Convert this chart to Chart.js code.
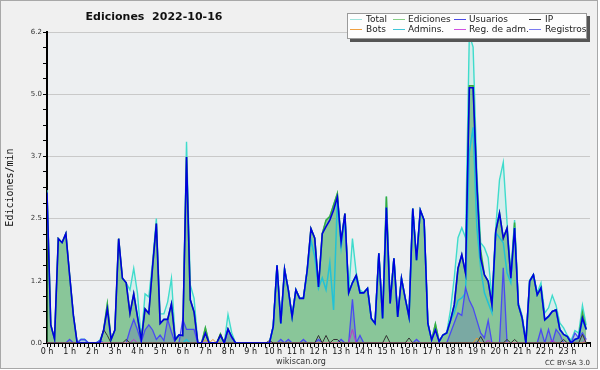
<!DOCTYPE html>
<html>
<head>
<meta charset="utf-8">
<script src="https://cdn.jsdelivr.net/npm/chart.js@4.4.0/dist/chart.umd.min.js"></script>
<style>
  html, body { margin: 0; padding: 0; background: #fff; }
  canvas { display: block; }
</style>
</head>
<body>
<canvas id="chartEdits" width="600" height="370"></canvas>
<script>
// edits per minute, one value per 10 minutes (6 per hour row)
const total = [
  3.05, 0.36, 0.08, 2.08, 2.0, 2.18,
  1.35, 0.55, 0, 0.07, 0.07, 0,
  0, 0, 0.05, 0.25, 0.78, 0.07,
  0.26, 2.08, 1.29, 1.2, 1.06, 1.49,
  0.99, 0.06, 0.98, 0.92, 1.62, 2.48,
  0.58, 0.58, 0.82, 1.29, 0.1, 0.16,
  0.15, 4.01, 1.16, 0.89, 0, 0,
  0.3, 0, 0, 0, 0.18, 0,
  0.57, 0.2, 0, 0, 0, 0,
  0, 0, 0, 0, 0, 0,
  0.33, 1.55, 0.39, 1.47, 1.06, 0.52,
  1.06, 0.89, 0.89, 1.45, 2.28, 2.09,
  1.12, 2.18, 2.45, 2.52, 2.75, 2.98,
  2.02, 2.58, 1.0, 2.08, 1.4, 1.06,
  1.0, 1.09, 0.49, 0.39, 1.79, 0.49,
  2.92, 0.79, 1.69, 0.52, 1.29, 0.89,
  0.52, 2.68, 1.65, 2.65, 2.45, 0.39,
  0.06, 0.38, 0.03, 0.16, 0.2, 0.66,
  1.3, 2.1, 2.3, 2.1, 6.15, 5.9,
  3.4, 2.0, 1.9, 1.7, 0.9, 2.3,
  3.25, 3.6, 2.4, 1.4, 2.45, 0.8,
  0.55, 0.05, 1.25, 1.37, 1.0, 1.2,
  0.6, 0.7, 0.95, 0.75, 0.4, 0.3,
  0.15, 0.05, 0.25, 0.2, 0.75, 0.35
];

const ediciones = [
  3.0, 0.36, 0.08, 2.08, 2.0, 2.18,
  1.35, 0.55, 0, 0, 0, 0,
  0, 0, 0, 0.25, 0.78, 0.07,
  0.26, 2.08, 1.29, 1.2, 0.59, 0.98,
  0.52, 0.06, 0.68, 0.59, 1.52, 2.38,
  0.39, 0.47, 0.47, 0.78, 0.06, 0.16,
  0.15, 3.71, 0.86, 0.62, 0, 0,
  0.3, 0, 0, 0, 0.18, 0,
  0.28, 0.12, 0, 0, 0, 0,
  0, 0, 0, 0, 0, 0,
  0.33, 1.55, 0.39, 1.47, 1.06, 0.52,
  1.06, 0.89, 0.89, 1.45, 2.28, 2.09,
  1.12, 2.18, 2.45, 2.52, 2.75, 2.98,
  2.02, 2.58, 1.0, 1.2, 1.35, 1.0,
  1.0, 1.09, 0.49, 0.39, 1.79, 0.49,
  2.92, 0.79, 1.69, 0.52, 1.29, 0.89,
  0.52, 2.68, 1.65, 2.65, 2.45, 0.39,
  0.06, 0.38, 0.03, 0.16, 0.2, 0.45,
  0.76, 1.49, 1.76, 1.39, 5.13, 5.13,
  3.15, 1.85, 1.36, 1.23, 0.76, 2.22,
  2.59, 2.09, 2.29, 1.29, 2.4, 0.76,
  0.5, 0, 1.23, 1.36, 0.96, 1.1,
  0.46, 0.53, 0.63, 0.66, 0.27, 0.17,
  0.13, 0, 0.07, 0.1, 0.6, 0.27
];

const usuarios = [
  3.0, 0.36, 0.08, 2.08, 2.0, 2.18,
  1.35, 0.55, 0, 0, 0, 0,
  0, 0, 0, 0.25, 0.68, 0.07,
  0.26, 2.08, 1.29, 1.2, 0.59, 0.98,
  0.52, 0.06, 0.68, 0.59, 1.52, 2.38,
  0.39, 0.47, 0.47, 0.78, 0.06, 0.16,
  0.15, 3.71, 0.86, 0.62, 0, 0,
  0.2, 0, 0, 0, 0.15, 0,
  0.28, 0.12, 0, 0, 0, 0,
  0, 0, 0, 0, 0, 0,
  0.33, 1.55, 0.39, 1.47, 1.06, 0.52,
  1.06, 0.89, 0.89, 1.45, 2.28, 2.09,
  1.12, 2.18, 2.32, 2.45, 2.65, 2.91,
  2.02, 2.58, 1.0, 1.2, 1.35, 1.0,
  1.0, 1.09, 0.49, 0.39, 1.79, 0.49,
  2.7, 0.79, 1.69, 0.52, 1.29, 0.89,
  0.52, 2.68, 1.65, 2.65, 2.45, 0.39,
  0.06, 0.26, 0.03, 0.16, 0.2, 0.45,
  0.76, 1.49, 1.76, 1.39, 5.09, 5.09,
  3.15, 1.69, 1.36, 1.23, 0.76, 2.22,
  2.59, 2.09, 2.29, 1.29, 2.29, 0.76,
  0.5, 0, 1.23, 1.36, 0.96, 1.1,
  0.46, 0.53, 0.63, 0.66, 0.27, 0.17,
  0.13, 0, 0.07, 0.1, 0.5, 0.27
];

const admins = [
  0, 0, 0, 0, 0, 0,
  0, 0, 0, 0.07, 0.07, 0,
  0, 0, 0.05, 0, 0, 0,
  0, 0, 0, 0, 0, 0,
  0, 0, 0, 0, 0, 0,
  0, 0, 0, 0, 0, 0,
  0, 0.07, 0, 0, 0, 0,
  0, 0, 0, 0, 0, 0,
  0, 0, 0, 0, 0, 0,
  0, 0, 0, 0, 0, 0,
  0.33, 1.55, 0.39, 1.47, 1.06, 0.52,
  1.06, 0.89, 0.89, 1.45, 2.05, 1.72,
  1.09, 1.3, 1.06, 1.6, 0.66, 2.85,
  1.9, 2.5, 1.0, 1.2, 1.3, 1.0,
  1.0, 1.09, 0.49, 0.39, 1.79, 0.49,
  2.7, 0.79, 1.69, 0.52, 1.29, 0.89,
  0.52, 2.68, 1.65, 2.65, 2.45, 0.39,
  0.06, 0.26, 0.03, 0.16, 0.2, 0.45,
  0.6, 0.85, 0.9, 1.0, 3.8, 4.3,
  2.3, 1.5, 1.0, 0.8, 0.6, 2.2,
  2.1, 2.0, 1.4, 1.2, 2.3, 0.76,
  0.5, 0, 1.23, 1.36, 0.96, 1.1,
  0.46, 0.53, 0.63, 0.66, 0.27, 0.17,
  0.13, 0, 0.07, 0.1, 0.45, 0.27
];

const registros = [
  0, 0, 0, 0, 0, 0,
  0.07, 0, 0, 0.07, 0.07, 0,
  0, 0, 0.05, 0, 0, 0,
  0, 0, 0, 0, 0.26, 0.47,
  0.26, 0.02, 0.26, 0.36, 0.26, 0.07,
  0.16, 0.05, 0.47, 0.22, 0, 0,
  0.47, 0.27, 0.27, 0.27, 0, 0,
  0, 0, 0, 0, 0, 0,
  0.27, 0.1, 0, 0, 0, 0,
  0, 0, 0, 0, 0, 0,
  0, 0, 0.07, 0, 0.07, 0,
  0, 0, 0.07, 0, 0, 0,
  0.07, 0, 0, 0, 0, 0,
  0.07, 0, 0, 0.87, 0, 0.15,
  0, 0, 0, 0, 0, 0,
  0, 0, 0, 0, 0, 0,
  0, 0, 0.07, 0, 0, 0,
  0, 0, 0, 0, 0, 0.2,
  0.4, 0.6, 0.55, 1.1, 0.85, 0.7,
  0.45, 0.2, 0.1, 0.45, 0, 0,
  0, 1.5, 0, 0, 0, 0,
  0, 0, 0, 0, 0, 0.27,
  0, 0.27, 0, 0.27, 0.17, 0,
  0, 0, 0.2, 0.1, 0.2, 0.07
];

const ip = [
  0, 0, 0, 0, 0, 0,
  0, 0, 0, 0, 0, 0,
  0, 0, 0, 0.27, 0.15, 0,
  0, 0, 0, 0.07, 0, 0,
  0, 0, 0, 0, 0, 0,
  0, 0, 0, 0, 0, 0,
  0, 0, 0, 0, 0, 0,
  0.18, 0, 0, 0, 0.18, 0,
  0, 0, 0, 0, 0, 0,
  0, 0, 0, 0, 0, 0.05,
  0, 0, 0, 0, 0, 0,
  0, 0, 0, 0, 0, 0,
  0.15, 0, 0.15, 0, 0.07, 0.07,
  0, 0, 0, 0, 0, 0,
  0, 0, 0, 0, 0, 0,
  0.15, 0, 0, 0, 0, 0,
  0.1, 0, 0, 0, 0, 0,
  0, 0, 0, 0, 0, 0,
  0, 0, 0, 0, 0, 0,
  0, 0.13, 0, 0, 0, 0,
  0, 0, 0.07, 0, 0.07, 0,
  0, 0, 0, 0, 0, 0,
  0, 0, 0, 0, 0, 0.07,
  0, 0, 0, 0, 0.17, 0
];

const bots = [
  0, 0, 0, 0, 0, 0,  0, 0, 0, 0, 0, 0,  0, 0, 0, 0, 0, 0,  0, 0, 0, 0, 0, 0,
  0, 0, 0, 0, 0, 0,  0, 0, 0, 0, 0, 0,  0, 0, 0, 0, 0, 0,  0.06, 0, 0.07, 0, 0, 0,
  0, 0, 0, 0, 0, 0,  0, 0, 0, 0, 0, 0,  0, 0, 0, 0, 0, 0,  0, 0, 0, 0, 0, 0,
  0, 0, 0, 0, 0, 0,  0, 0, 0, 0, 0, 0,  0, 0, 0, 0, 0, 0,  0, 0, 0, 0, 0, 0,
  0, 0, 0, 0, 0, 0,  0, 0, 0, 0, 0, 0,  0, 0, 0, 0, 0, 0,  0.1, 0, 0, 0, 0, 0,
  0, 0, 0, 0, 0, 0,  0, 0, 0, 0, 0, 0,  0, 0, 0, 0, 0, 0,  0, 0, 0, 0, 0, 0
];

const regAdm = [
  0, 0, 0, 0, 0, 0,  0, 0, 0, 0, 0, 0,  0, 0, 0, 0, 0, 0,  0, 0, 0, 0, 0, 0.07,
  0, 0, 0, 0, 0, 0,  0, 0, 0, 0, 0, 0,  0, 0, 0, 0, 0, 0,  0, 0, 0, 0, 0, 0,
  0, 0, 0, 0, 0, 0,  0, 0, 0, 0, 0, 0,  0, 0, 0, 0, 0, 0,  0, 0, 0, 0, 0, 0,
  0, 0, 0, 0, 0, 0,  0, 0, 0, 0.27, 0, 0,  0, 0, 0, 0, 0, 0,  0, 0, 0, 0, 0, 0,
  0, 0, 0, 0, 0, 0,  0, 0, 0, 0, 0, 0,  0, 0, 0, 0, 0, 0,  0, 0, 0, 0.05, 0, 0,
  0, 0, 0, 0, 0, 0,  0, 0, 0, 0, 0, 0,  0, 0, 0.05, 0, 0, 0,  0, 0, 0, 0, 0, 0.07
];

const hourLabels = [
  '0 h', '1 h', '2 h', '3 h', '4 h', '5 h', '6 h', '7 h', '8 h', '9 h', '10 h', '11 h',
  '12 h', '13 h', '14 h', '15 h', '16 h', '17 h', '18 h', '19 h', '20 h', '21 h', '22 h', '23 h'
];
const yTickValues = [0, 1.24, 2.48, 3.72, 4.96, 6.2];
const yTickLabels = ['0.0', '1.2', '2.5', '3.7', '5.0', '6.2'];

// legend is drawn by hand: 4 columns x 2 rows
const legendItems = [
  { text: 'Total', color: '#9fe3dc' },
  { text: 'Ediciones', color: '#86cf86' },
  { text: 'Usuarios', color: '#4a4ae6' },
  { text: 'IP', color: '#333333' },
  { text: 'Bots', color: '#f0a040' },
  { text: 'Admins.', color: '#40c6d8' },
  { text: 'Reg. de adm.', color: '#d050e0' },
  { text: 'Registros', color: '#7a7af0' }
];

function toPoints(values) {
  return values.map((v, i) => ({ x: i * 10, y: v }));
}

function line(label, values, color, width, order, extra) {
  return Object.assign({
    label,
    data: toPoints(values),
    borderColor: color,
    borderWidth: width,
    pointRadius: 0,
    tension: 0,
    fill: false,
    order
  }, extra || {});
}

const frame = {
  id: 'frame',
  beforeDraw(chart) {
    const { ctx, chartArea } = chart;
    ctx.save();
    ctx.fillStyle = '#ffffff';
    ctx.fillRect(0, 0, 600, 370);
    ctx.fillStyle = '#f0f0f0';
    ctx.fillRect(1, 1, 597, 368);
    ctx.strokeStyle = '#a8a8a8';
    ctx.lineWidth = 1;
    ctx.strokeRect(0.5, 0.5, 597, 368);
    ctx.fillStyle = '#edeff1';
    ctx.fillRect(chartArea.left, chartArea.top, chartArea.right - chartArea.left, chartArea.bottom - chartArea.top);
    ctx.restore();
  },
  afterDraw(chart) {
    const ctx = chart.ctx;
    ctx.save();

    // title
    ctx.fillStyle = '#111';
    ctx.font = 'bold 11px "DejaVu Sans"';
    ctx.textAlign = 'center';
    ctx.textBaseline = 'middle';
    ctx.fillText('Ediciones  2022-10-16', 154, 17);

    // footer texts
    ctx.fillStyle = '#333';
    ctx.font = '8px "DejaVu Sans"';
    ctx.fillText('wikiscan.org', 301, 362);
    ctx.font = '7px "DejaVu Sans"';
    ctx.textAlign = 'right';
    ctx.fillText('CC BY-SA 3.0', 590, 363);

    // legend box with shadow
    ctx.fillStyle = '#555';
    ctx.fillRect(350, 16, 240, 26);
    ctx.fillStyle = '#fdfdfd';
    ctx.fillRect(347, 13, 240, 26);
    ctx.strokeStyle = '#9a9a9a';
    ctx.strokeRect(347.5, 13.5, 239, 25);

    const lineX = [350, 393, 454, 529];
    const textX = [366, 408, 469, 545];
    const rowY = [19, 29];
    ctx.font = '9px "DejaVu Sans"';
    ctx.textAlign = 'left';
    legendItems.forEach((item, k) => {
      const col = k % 4;
      const row = Math.floor(k / 4);
      ctx.strokeStyle = item.color;
      ctx.lineWidth = 1;
      ctx.beginPath();
      ctx.moveTo(lineX[col], rowY[row] + 0.5);
      ctx.lineTo(lineX[col] + 12, rowY[row] + 0.5);
      ctx.stroke();
      ctx.fillStyle = '#222';
      ctx.fillText(item.text, textX[col], rowY[row] + 1);
    });
    ctx.restore();
  }
};

const datasets = [
  line('Usuarios', usuarios, '#0000dd', 1.6, 1),
  line('IP', ip, '#333333', 1, 2),
  line('Bots', bots, '#e89a2a', 1, 3),
  line('Reg. de adm.', regAdm, '#c030d0', 1, 4),
  line('Registros', registros, '#4a4af2', 1.3, 5, { fill: 'origin', backgroundColor: 'rgba(70,70,200,0.22)' }),
  line('Admins.', admins, '#22c2d6', 1.5, 6),
  line('Ediciones', ediciones, '#3caa3c', 1.5, 7, { fill: 'origin', backgroundColor: 'rgba(60,160,70,0.5)' }),
  line('Total', total, '#3fdccc', 1.4, 8, { fill: 'origin', backgroundColor: 'rgba(64,224,208,0.13)' })
];

new Chart(document.getElementById('chartEdits').getContext('2d'), {
  type: 'line',
  data: { datasets },
  plugins: [frame],
  options: {
    responsive: false,
    animation: false,
    devicePixelRatio: 1,
    layout: { padding: { top: 32, right: 10, bottom: 0, left: 0 } },
    plugins: {
      legend: { display: false },
      title: { display: false },
      tooltip: { enabled: false },
      filler: { drawTime: 'beforeDatasetsDraw' }
    },
    scales: {
      x: {
        type: 'linear',
        min: 0,
        max: 1440,
        afterBuildTicks: (scale) => {
          const ticks = [];
          for (let m = 0; m <= 1440; m += 10) ticks.push({ value: m });
          scale.ticks = ticks;
        },
        afterFit: (scale) => { scale.height = 27; },
        ticks: {
          autoSkip: false,
          maxRotation: 0,
          minRotation: 0,
          padding: 0,
          color: '#111',
          font: { family: 'DejaVu Sans', size: 8 },
          callback: (v) => (v % 60 === 0 && v < 1440 ? hourLabels[v / 60] : '')
        },
        grid: { drawOnChartArea: false, tickLength: 4, tickColor: '#000', tickWidth: 1 },
        border: { color: '#000', width: 2 }
      },
      y: {
        min: 0,
        max: 6.2,
        afterBuildTicks: (scale) => {
          const ticks = [];
          for (let k = 0; k < yTickValues.length; k++) {
            ticks.push({ value: yTickValues[k] });
            if (k < yTickValues.length - 1) {
              const a = yTickValues[k];
              const b = yTickValues[k + 1];
              for (let s = 1; s < 4; s++) ticks.push({ value: a + (b - a) * s / 4 });
            }
          }
          scale.ticks = ticks;
        },
        afterFit: (scale) => { scale.width = 47; },
        title: {
          display: true,
          text: 'Ediciones/min',
          color: '#111',
          font: { family: 'DejaVu Sans Mono', size: 10 },
          padding: { top: 4, bottom: 0 }
        },
        ticks: {
          autoSkip: false,
          padding: 1,
          color: '#333',
          font: { family: 'DejaVu Sans', size: 7 },
          callback: (v) => {
            const idx = yTickValues.indexOf(v);
            return idx >= 0 ? yTickLabels[idx] : '';
          }
        },
        grid: {
          color: (c) => (c.tick && yTickValues.indexOf(c.tick.value) >= 0 ? '#c9c9c9' : 'rgba(0,0,0,0)'),
          tickColor: '#000',
          tickLength: 4,
          lineWidth: 1
        },
        border: { color: '#000', width: 2 }
      }
    }
  }
});
</script>
</body>
</html>
